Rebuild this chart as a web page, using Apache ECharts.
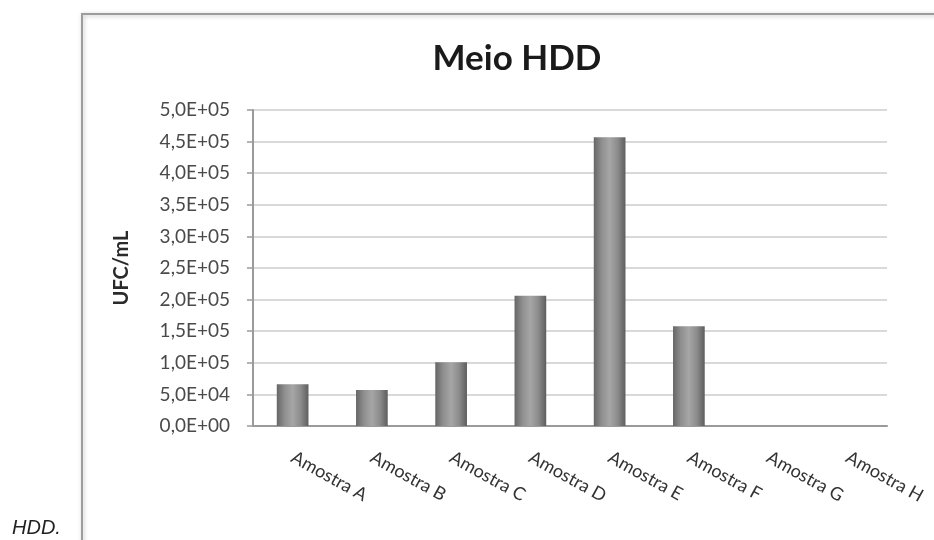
<!DOCTYPE html>
<html>
<head>
<meta charset="utf-8">
<script src="https://cdn.jsdelivr.net/npm/echarts@6/dist/echarts.min.js"></script>
<style>
  html, body { margin: 0; padding: 0; background: #fff; }
  #chart { width: 934px; height: 540px; }
</style>
</head>
<body>
<div id="chart"></div>
<script>
// Amostras and their counts (UFC/mL) on the HDD medium
const categories = ['Amostra A', 'Amostra B', 'Amostra C', 'Amostra D', 'Amostra E', 'Amostra F', 'Amostra G', 'Amostra H'];
const ufcValues = [66000, 57000, 101000, 206000, 457000, 158000, 0, 0];
const chartTitle = 'Meio HDD';
const yAxisName = 'UFC/mL';
const captionText = 'HDD.';

// Scientific notation with a decimal comma, e.g. 5,0E+04
function sci(v) {
  if (v === 0) return '0,0E+00';
  const e = Math.floor(Math.log10(v));
  const m = (v / Math.pow(10, e)).toFixed(1).replace('.', ',');
  return m + 'E+' + String(e).padStart(2, '0');
}

const chart = echarts.init(document.getElementById('chart'));
chart.setOption({
  backgroundColor: '#ffffff',
  animation: false,
  title: {
    text: chartTitle,
    left: 512,
    textAlign: 'center',
    top: 36,
    textStyle: { fontFamily: 'Lato', fontWeight: 'bold', fontSize: 35, color: '#1a1a1a' }
  },
  grid: { left: 253, right: 47, top: 110, bottom: 114 },
  xAxis: {
    type: 'category',
    data: categories,
    axisLine: { lineStyle: { color: '#9a9a9a', width: 2 } },
    axisTick: { show: false },
    axisLabel: {
      rotate: -29,
      margin: 30,
      color: '#333333',
      fontFamily: 'Lato',
      fontSize: 18,
      interval: 0
    }
  },
  yAxis: {
    type: 'value',
    min: 0,
    max: 500000,
    interval: 50000,
    name: yAxisName,
    nameLocation: 'middle',
    nameGap: 121,
    nameTextStyle: { fontFamily: 'Lato', fontWeight: 'bold', fontSize: 20, color: '#2a2a2a' },
    axisLine: { show: true, lineStyle: { color: '#9a9a9a', width: 2 } },
    axisTick: { show: true, length: 6, lineStyle: { color: '#9a9a9a', width: 1.5 } },
    splitLine: { lineStyle: { color: '#cccccc', width: 1.5 } },
    axisLabel: {
      formatter: sci,
      color: '#4a4a4a',
      fontFamily: 'Lato',
      fontSize: 19,
      margin: 23
    }
  },
  series: [{
    type: 'bar',
    data: ufcValues,
    barWidth: '40%',
    itemStyle: {
      color: new echarts.graphic.LinearGradient(0, 0, 1, 0, [
        { offset: 0, color: '#666666' },
        { offset: 0.25, color: '#8f8f8f' },
        { offset: 0.5, color: '#a6a6a6' },
        { offset: 0.75, color: '#8c8c8c' },
        { offset: 1, color: '#5e5e5e' }
      ])
    }
  }],
  graphic: [
    {
      type: 'rect',
      shape: { x: 82, y: 14, width: 900, height: 600 },
      style: {
        fill: 'none',
        stroke: '#9c9c9c',
        lineWidth: 2,
        shadowBlur: 4,
        shadowColor: 'rgba(0,0,0,0.25)',
        shadowOffsetX: 1,
        shadowOffsetY: 1
      },
      z: 10
    },
    {
      type: 'text',
      left: 12,
      top: 518,
      style: {
        text: captionText,
        font: 'italic 20px "Liberation Sans", Arial, sans-serif',
        fill: '#222222'
      }
    }
  ]
});
</script>
</body>
</html>
